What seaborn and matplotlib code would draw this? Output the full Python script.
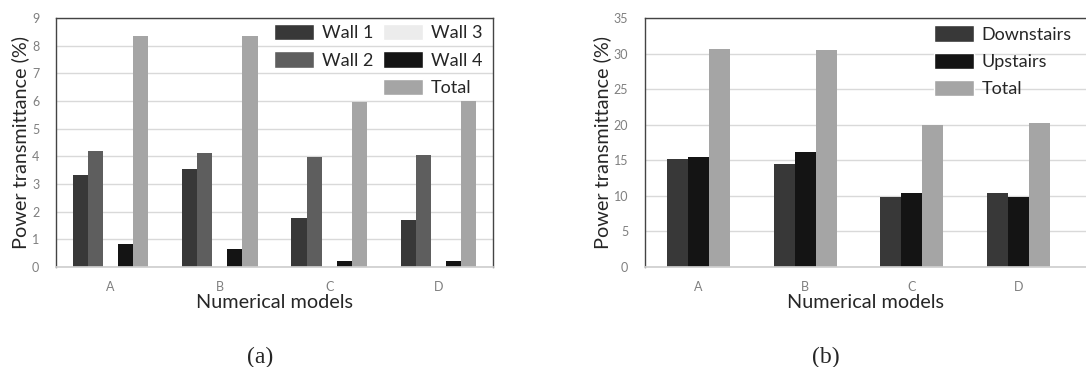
import pandas as pd
import matplotlib
matplotlib.use("Agg")
import matplotlib.pyplot as plt
from matplotlib.patches import Patch
import seaborn as sns

MODELS = ["A", "B", "C", "D"]

WALL_SERIES = ["Wall 1", "Wall 2", "Wall 3", "Wall 4", "Total"]
WALL_COLORS = ["#383838", "#5e5e5e", "#ececec", "#141414", "#a5a5a5"]
wall_1 = [3.32, 3.55, 1.78, 1.70]
wall_2 = [4.20, 4.12, 3.98, 4.05]
wall_3 = [0.03, 0.03, 0.03, 0.03]
wall_4 = [0.83, 0.65, 0.20, 0.23]
wall_total = [8.35, 8.35, 5.95, 6.00]

FLOOR_SERIES = ["Downstairs", "Upstairs", "Total"]
FLOOR_COLORS = ["#383838", "#141414", "#a5a5a5"]
downstairs = [15.2, 14.5, 9.8, 10.4]
upstairs = [15.4, 16.1, 10.4, 9.8]
floor_total = [30.6, 30.5, 20.0, 20.2]

SANS = "Lato"
TICK_GRAY = "#7f7f7f"


def long_table(series_names, columns):
    rows = []
    for name, vals in zip(series_names, columns):
        for m, v in zip(MODELS, vals):
            rows.append({"model": m, "series": name, "value": v})
    return pd.DataFrame(rows)


def style_axes(ax, ymax, step, right_spine=True):
    ax.set_ylim(0, ymax)
    ax.set_yticks(range(0, ymax + 1, step))
    ax.yaxis.grid(True, color="#d9d9d9", linewidth=1)
    ax.xaxis.grid(False)
    ax.set_axisbelow(True)
    for side in ["left", "top", "right"]:
        ax.spines[side].set_color("#444444")
        ax.spines[side].set_linewidth(1)
    ax.spines["right"].set_visible(right_spine)
    ax.spines["bottom"].set_color("#cfcfcf")
    ax.tick_params(axis="both", length=0, labelsize=9, labelcolor=TICK_GRAY)
    ax.tick_params(axis="y", pad=12)
    ax.tick_params(axis="x", pad=10)
    ax.set_xlabel("Numerical models", fontsize=14.3, labelpad=1)
    ax.set_ylabel("Power transmittance (%)", fontsize=14.3, labelpad=2)


def main():
    sns.set_theme(style="white")
    plt.rcParams["font.family"] = [SANS, "DejaVu Sans"]

    fig = plt.figure(figsize=(10.86, 3.67), dpi=100)
    ax1 = fig.add_axes([56 / 1086, 1 - 267 / 367, 437 / 1086, 249 / 367])
    ax2 = fig.add_axes([645 / 1086, 1 - 267 / 367, 441 / 1086, 249 / 367])

    df_walls = long_table(WALL_SERIES, [wall_1, wall_2, wall_3, wall_4, wall_total])
    sns.barplot(data=df_walls, x="model", y="value", hue="series",
                hue_order=WALL_SERIES, palette=WALL_COLORS, saturation=1,
                width=0.69, linewidth=0, legend=False, ax=ax1)
    style_axes(ax1, 9, 1)
    ax1.set_xlim(-0.5, 3.5)

    df_floors = long_table(FLOOR_SERIES, [downstairs, upstairs, floor_total])
    sns.barplot(data=df_floors, x="model", y="value", hue="series",
                hue_order=FLOOR_SERIES, palette=FLOOR_COLORS, saturation=1,
                width=0.59, linewidth=0, legend=False, ax=ax2)
    style_axes(ax2, 35, 5, right_spine=False)
    ax2.set_xlim(-0.504, 3.637)

    wall_handles = [Patch(facecolor=c, label=s) for s, c in zip(WALL_SERIES, WALL_COLORS)]
    blank = Patch(facecolor="none", edgecolor="none", label="")
    handles = wall_handles[:2] + [blank] + wall_handles[2:]
    ax1.legend(handles=handles, ncol=2, loc="upper left", bbox_to_anchor=(0.499, 0.975),
               frameon=False, fontsize=13, borderpad=0, borderaxespad=0,
               handlelength=2.2, handleheight=1.0, handletextpad=0.45,
               columnspacing=0.55, labelspacing=0.55)

    floor_handles = [Patch(facecolor=c, label=s) for s, c in zip(FLOOR_SERIES, FLOOR_COLORS)]
    ax2.legend(handles=floor_handles, loc="upper left", bbox_to_anchor=(0.655, 0.97),
               frameon=False, fontsize=13, borderpad=0, borderaxespad=0,
               handlelength=2.2, handleheight=1.0, handletextpad=0.45,
               labelspacing=0.55)

    fig.text(260 / 1086, 1 - 357 / 367, "(a)", ha="center", va="center",
             family="Liberation Serif", fontsize=17)
    fig.text(826 / 1086, 1 - 357 / 367, "(b)", ha="center", va="center",
             family="Liberation Serif", fontsize=17)

    fig.savefig("out.png", dpi=100)
    plt.close(fig)


if __name__ == "__main__":
    main()
